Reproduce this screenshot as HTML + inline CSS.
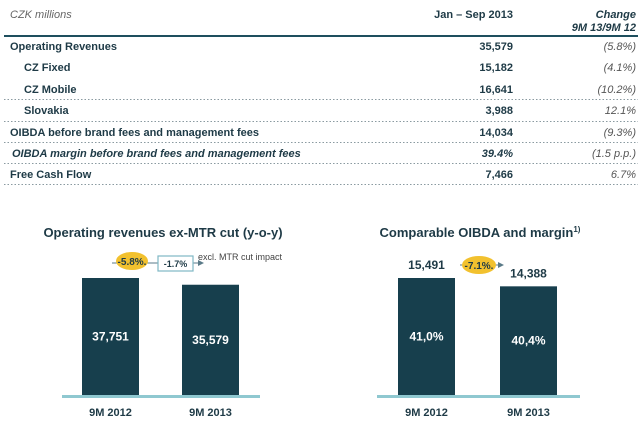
<!DOCTYPE html>
<html><head><meta charset="utf-8"><style>
body{margin:0;width:640px;height:427px;background:#fff;overflow:hidden;font-family:"Liberation Sans",sans-serif;}
svg text{font-family:"Liberation Sans",sans-serif;}
</style></head><body>
<svg width="640" height="427">
<g>
<text x="10" y="18" font-size="11" font-style="italic" fill="#666">CZK millions</text>
<text x="513" y="18" font-size="11" font-weight="bold" fill="#1e3a46" text-anchor="end">Jan – Sep 2013</text>
<text x="636" y="18" font-size="11" font-weight="bold" font-style="italic" fill="#1e3a46" text-anchor="end">Change</text>
<text x="636" y="31" font-size="11" font-weight="bold" font-style="italic" fill="#1e3a46" text-anchor="end">9M 13/9M 12</text>
<rect x="4" y="35" width="634" height="2" fill="#1e4f5e"/>
<g font-size="11" font-weight="bold" fill="#1e3a46">
<text x="10" y="50">Operating Revenues</text>
<text x="24" y="71">CZ Fixed</text>
<text x="24" y="93">CZ Mobile</text>
<text x="24" y="114">Slovakia</text>
<text x="10" y="136">OIBDA before brand fees and management fees</text>
<text x="12" y="157" font-style="italic">OIBDA margin before brand fees and management fees</text>
<text x="10" y="178">Free Cash Flow</text>
</g>
<g font-size="11" font-weight="bold" fill="#1e3a46" text-anchor="end">
<text x="513" y="50">35,579</text><text x="513" y="71">15,182</text><text x="513" y="93">16,641</text>
<text x="513" y="114">3,988</text><text x="513" y="136">14,034</text><text x="513" y="157" font-style="italic">39.4%</text><text x="513" y="178">7,466</text>
</g>
<g font-size="11" font-style="italic" fill="#555" text-anchor="end">
<text x="636" y="50">(5.8%)</text><text x="636" y="71">(4.1%)</text><text x="636" y="93">(10.2%)</text>
<text x="636" y="114">12.1%</text><text x="636" y="136">(9.3%)</text><text x="636" y="157">(1.5 p.p.)</text><text x="636" y="178">6.7%</text>
</g>
<g stroke="#8a9aa0" stroke-dasharray="1.5,2" stroke-width="1">
<line x1="4" x2="638" y1="99.5" y2="99.5"/><line x1="4" x2="638" y1="121.5" y2="121.5"/>
<line x1="4" x2="638" y1="142.5" y2="142.5"/><line x1="4" x2="638" y1="163.5" y2="163.5"/><line x1="4" x2="638" y1="184.5" y2="184.5"/>
</g>
</g>
<text x="163" y="237" font-size="13" font-weight="bold" fill="#1e3a46" text-anchor="middle">Operating revenues ex-MTR cut (y-o-y)</text>
<text x="480" y="237" font-size="13" font-weight="bold" fill="#1e3a46" text-anchor="middle">Comparable OIBDA and margin<tspan font-size="8" dy="-5">1)</tspan></text>
<g id="left"></g>
<g id="right"></g>
<g>
<line x1="112" y1="263" x2="198" y2="263" stroke="#5a7a88" stroke-width="1"/>
<polygon points="198,260 204,263 198,266" fill="#5a7a88"/>
<ellipse cx="132" cy="261" rx="16" ry="9" fill="#f2c12e"/>
<text x="132" y="265" font-size="10" font-weight="bold" fill="#1e3a46" text-anchor="middle">-5.8%.</text>
<rect x="158" y="256" width="35" height="15" fill="#fff" stroke="#7fb8c4" stroke-width="1.2"/>
<text x="175.5" y="267" font-size="9" font-weight="bold" fill="#1e3a46" text-anchor="middle">-1.7%</text>
<text x="198" y="260" font-size="9" fill="#444">excl. MTR cut impact</text>
</g>
<g>
<line x1="460" y1="265" x2="498" y2="265" stroke="#5a7a88" stroke-width="1"/>
<polygon points="498,262 504,265 498,268" fill="#5a7a88"/>
<ellipse cx="479" cy="265" rx="17" ry="9" fill="#f2c12e"/>
<text x="479" y="269" font-size="10" font-weight="bold" fill="#1e3a46" text-anchor="middle">-7.1%.</text>
</g>
</svg>
<script>
const categories = ["9M 2012", "9M 2013"];
const revenueValues = [37751, 35579];
const revenueLabels = ["37,751", "35,579"];
const oibdaValues = [15491, 14388];
const oibdaLabels = ["15,491", "14,388"];
const marginLabels = ["41,0%", "40,4%"];
const NS = "http://www.w3.org/2000/svg";
function mk(tag, attrs, parent){const e=document.createElementNS(NS,tag);for(const k in attrs)e.setAttribute(k,attrs[k]);parent.appendChild(e);return e;}
function drawChart(g, vals, inner, above, barX, baseX0, baseX1){
  const base = 395, maxH = 117, maxV = Math.max(...vals);
  const y = v => base - v / maxV * maxH;
  const bw = 57;
  const line = mk("rect",{x:baseX0,y:base,width:baseX1-baseX0,height:3,fill:"#8fc8d0"},g);
  
  
  vals.forEach((v,i)=>{
    const r = mk("rect",{x:barX[i],y:y(v),width:bw,height:base-y(v),fill:"#173f4d"},g);
    
    
    const t = mk("text",{x:barX[i]+bw/2,y:(y(v)+base)/2+4,"font-size":12,"font-weight":"bold",fill:"#fff","text-anchor":"middle"},g);
    t.textContent = inner[i];
    
    
    if(above){
      const a = mk("text",{x:barX[i]+bw/2,y:y(v)-9,"font-size":12,"font-weight":"bold",fill:"#1e3a46","text-anchor":"middle"},g);
      a.textContent = above[i];
      
      
    }
    const c = mk("text",{x:barX[i]+bw/2,y:416,"font-size":11,"font-weight":"bold",fill:"#1e3a46","text-anchor":"middle"},g);
    c.textContent = categories[i];
    
    
  });
}
drawChart(document.getElementById('left'), revenueValues, revenueLabels, null, [82,182], 62, 260);
drawChart(document.getElementById('right'), oibdaValues, marginLabels, oibdaLabels, [398,500], 377, 580);
</script>
</body></html>
